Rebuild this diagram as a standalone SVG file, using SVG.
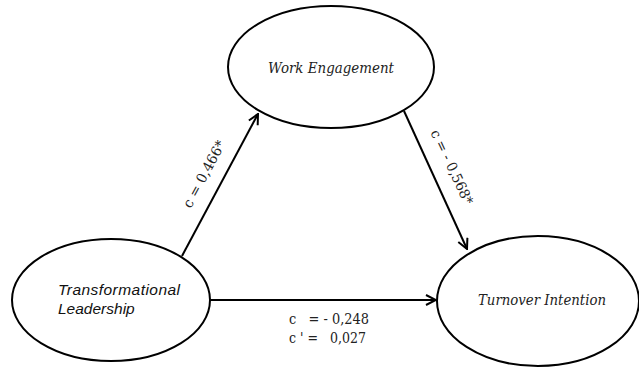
<svg xmlns="http://www.w3.org/2000/svg" width="639" height="367" viewBox="0 0 639 367">
<style>
.node{fill:#fff;stroke:#000;stroke-width:2}
.edge{stroke:#000;stroke-width:2;fill:none}
.sans{font-family:'Liberation Sans',Arial,sans-serif;fill:#111;font-style:italic;font-size:15.5px}
.serif{font-family:'DejaVu Serif','Liberation Serif',serif}
.lbl{font-size:14px;white-space:pre;fill:#222}
.name{font-size:14px;font-style:italic;fill:#222}
</style>
<defs>
<marker id="arr" viewBox="0 0 12 12" refX="11" refY="6" markerWidth="12" markerHeight="12" markerUnits="userSpaceOnUse" orient="auto">
<polyline points="1,1 11,6 1,11" fill="none" stroke="#000" stroke-width="2"/>
</marker>
</defs>
<g id="connectors">
<line class="edge" x1="182" y1="256" x2="258" y2="114" marker-end="url(#arr)"/>
<line class="edge" x1="404" y1="111" x2="467" y2="249" marker-end="url(#arr)"/>
<line class="edge" x1="210" y1="300" x2="436" y2="300" marker-end="url(#arr)"/>
<text class="serif lbl" transform="translate(204,174) rotate(-61.7)" text-anchor="middle" dy=".35em" textLength="74" lengthAdjust="spacingAndGlyphs">c = 0,466*</text>
<text class="serif lbl" transform="translate(452,167) rotate(64.8)" text-anchor="middle" dy=".35em" textLength="81" lengthAdjust="spacingAndGlyphs">c = - 0,568*</text>
<text class="serif lbl" x="289" y="324" textLength="80" lengthAdjust="spacingAndGlyphs">c   = - 0,248</text>
<text class="serif lbl" x="289" y="343" textLength="77" lengthAdjust="spacingAndGlyphs">c ' =   0,027</text>
</g>
<g id="work-engagement">
<ellipse class="node" cx="331" cy="67" rx="103" ry="61"/>
<text class="serif name" x="331" y="73" text-anchor="middle" textLength="126" lengthAdjust="spacingAndGlyphs">Work Engagement</text>
</g>
<g id="transformational-leadership">
<ellipse class="node" cx="111" cy="300" rx="99" ry="61"/>
<text class="sans" x="58" y="295" textLength="122">Transformational</text>
<text class="sans" x="58" y="314">Leadership</text>
</g>
<g id="turnover-intention">
<ellipse class="node" cx="538" cy="301" rx="101" ry="65"/>
<text class="serif name" x="542" y="305" text-anchor="middle" textLength="128" lengthAdjust="spacingAndGlyphs">Turnover Intention</text>
</g>
</svg>
